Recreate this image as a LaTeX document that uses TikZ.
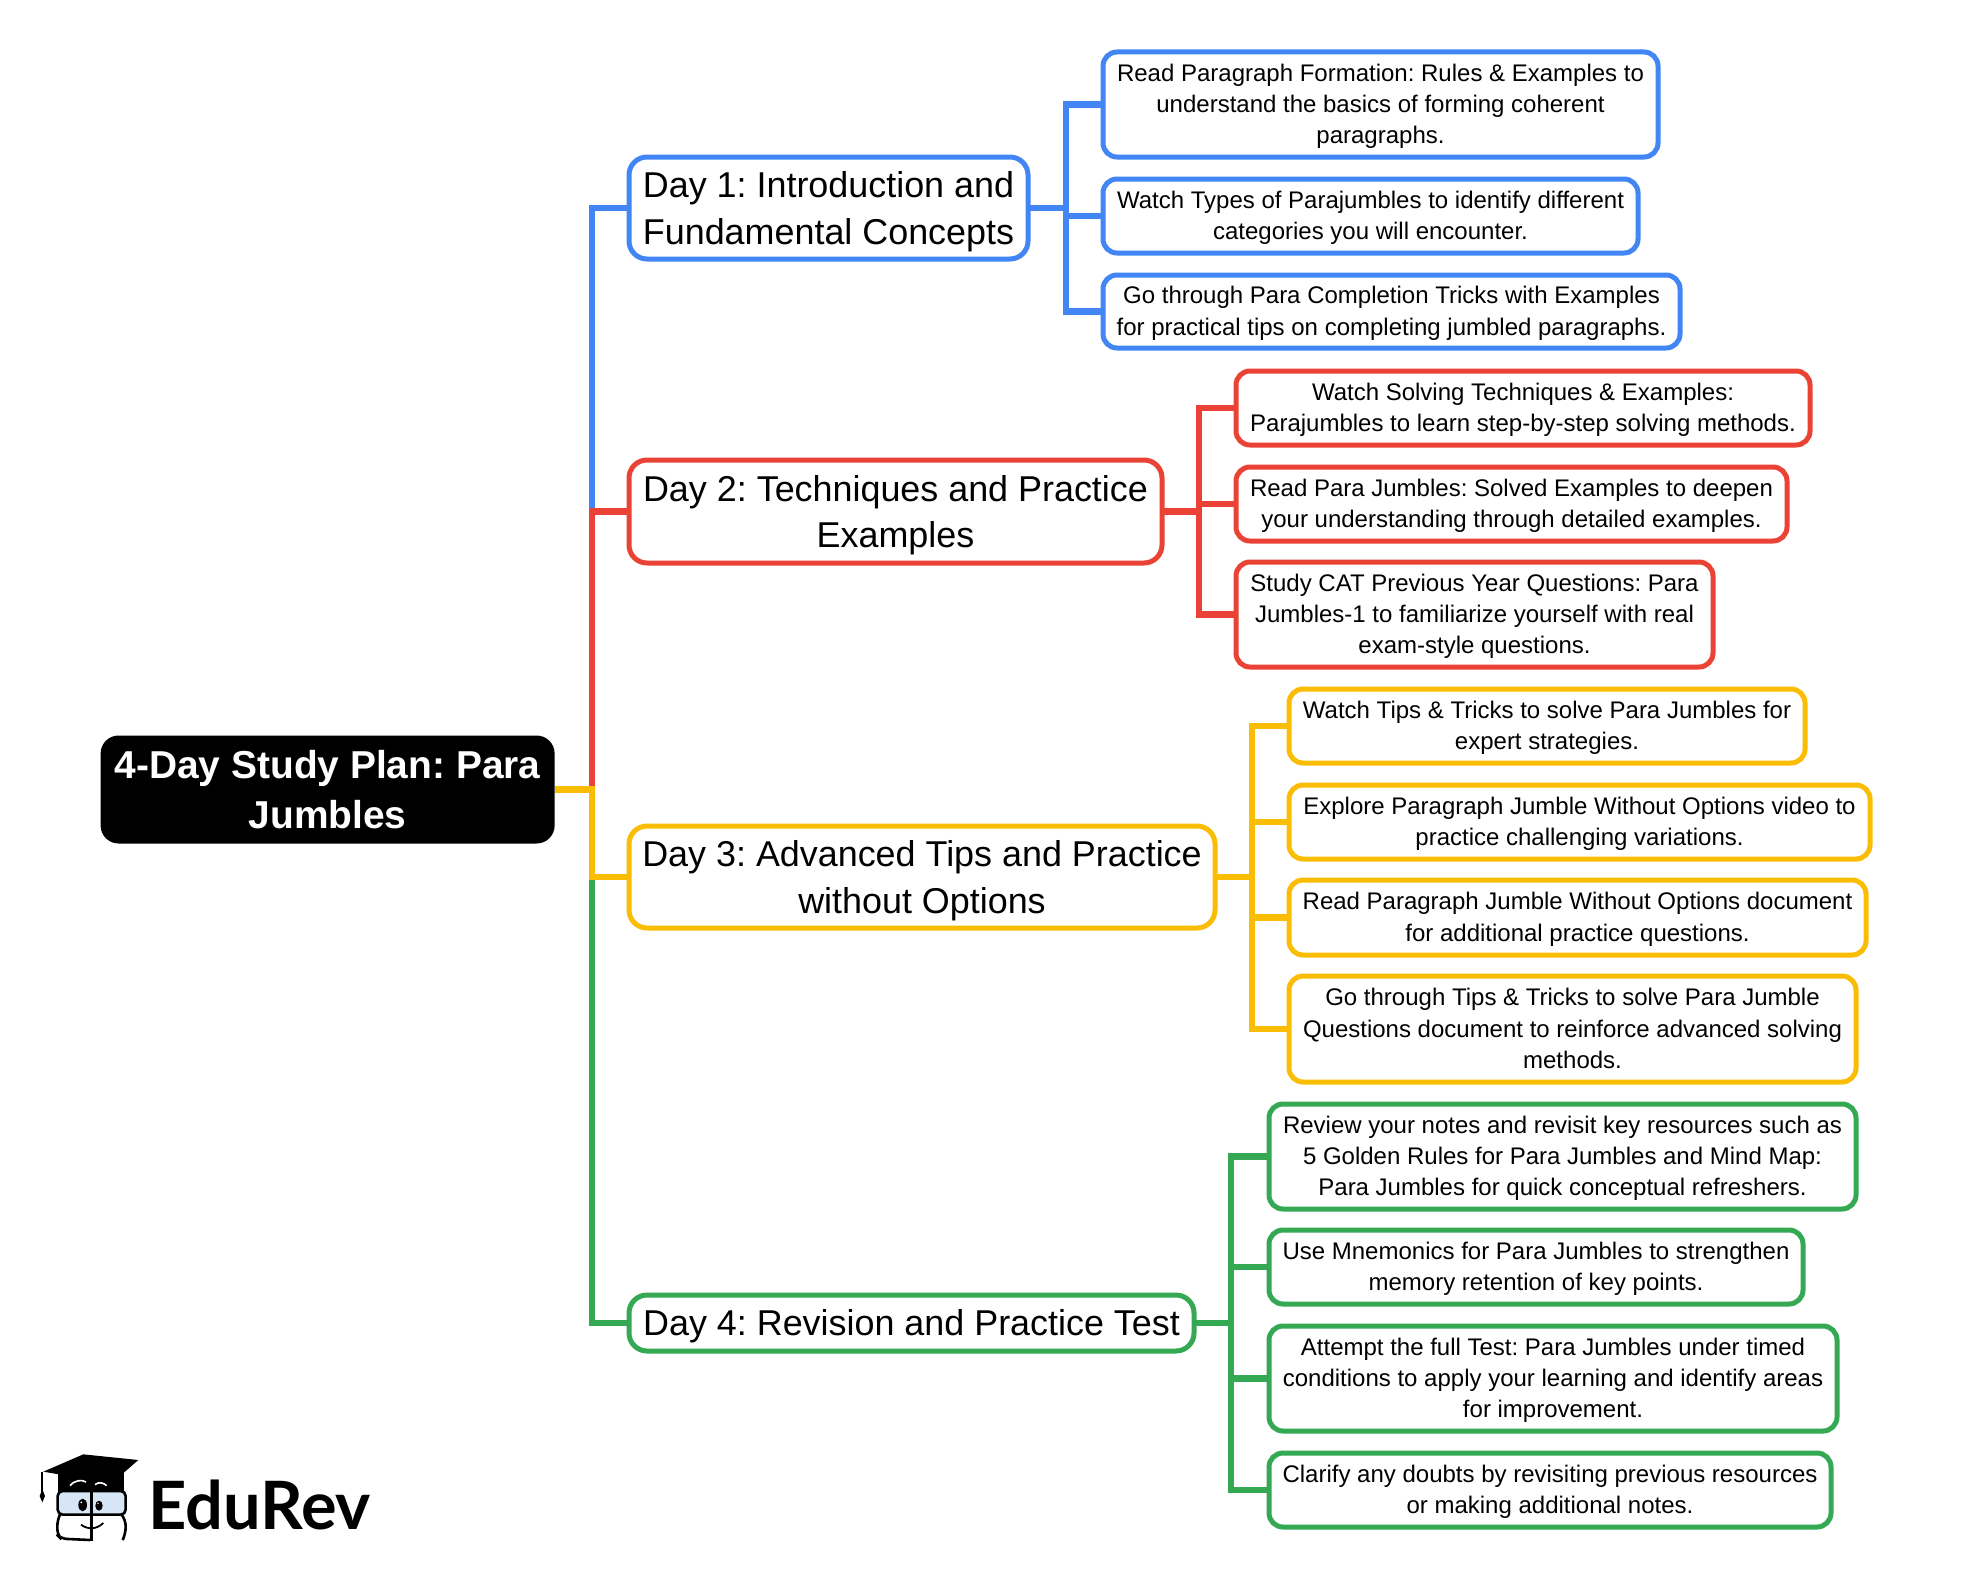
\documentclass[tikz,border=0pt]{standalone}
\usepackage{fontspec}
\setmainfont{Liberation Sans}
\newfontfamily\logofont{Lato}
\frenchspacing
\definecolor{cblue}{HTML}{4285F4}
\definecolor{cred}{HTML}{EA4335}
\definecolor{cyel}{HTML}{FBBC04}
\definecolor{cgrn}{HTML}{34A853}
\definecolor{cglass}{HTML}{D6E6F7}
\tikzset{
  box/.style={draw,fill=white,rounded corners=14pt,line width=5pt,outer sep=0pt,inner sep=0pt,align=center},
  leaf/.style={box,font=\def\txtdrop{-1.8pt}\fontsize{24pt}{31.3pt}\selectfont},
  day/.style={box,rounded corners=18pt,font=\def\txtdrop{-3.5pt}\fontsize{35.9pt}{46.6pt}\selectfont},
  rootbox/.style={fill=black,text=white,rounded corners=18pt,outer sep=0pt,inner sep=0pt,align=center,font=\bfseries\fontsize{38.9pt}{50pt}\selectfont},
  link/.style={line width=6.1pt,miter limit=10,shorten >=-2pt},
  node distance=0pt
}
\newcommand{\boxat}[8]{\node[#1,draw=#2,minimum width=#5pt-#4pt,minimum height=#7pt-#6pt] (#3) at ({(#4+#5)/2},{(#6+#7)/2}) {\raisebox{\txtdrop}[\height][\depth]{\begin{tabular}{@{}c@{}}#8\end{tabular}}};}
\begin{document}
\begin{tikzpicture}[x=1pt,y=-1pt]
\useasboundingbox[fill=white] (0,0) rectangle (1972,1579);
% root
\node[rootbox,minimum width=454pt,minimum height=108pt] (root) at (327.6,789.5) {4-Day Study Plan: Para\\Jumbles};
% days
\boxat{day}{cblue}{d1}{629}{1028}{157}{259}{Day 1: Introduction and\\Fundamental Concepts}
\boxat{day}{cred}{d2}{629}{1162}{460}{563}{Day 2: Techniques and Practice\\Examples}
\boxat{day}{cyel}{d3}{629}{1215}{826}{928}{Day 3: Advanced Tips and Practice\\without Options}
\boxat{day}{cgrn}{d4}{629}{1194}{1295}{1351}{Day 4: Revision and Practice Test}
% leaves day 1
\boxat{leaf}{cblue}{a1}{1103}{1658}{52}{157}{Read Paragraph Formation: Rules \& Examples to\\understand the basics of forming coherent\\paragraphs.}
\boxat{leaf}{cblue}{a2}{1103}{1638}{179}{253}{Watch Types of Parajumbles to identify different\\categories you will encounter.}
\boxat{leaf}{cblue}{a3}{1103}{1680}{275}{348}{Go through Para Completion Tricks with Examples\\for practical tips on completing jumbled paragraphs.}
% day 2
\boxat{leaf}{cred}{b1}{1236}{1810}{371}{445}{Watch Solving Techniques \& Examples:\\Parajumbles to learn step-by-step solving methods.}
\boxat{leaf}{cred}{b2}{1236}{1787}{467}{541}{Read Para Jumbles: Solved Examples to deepen\\your understanding through detailed examples.}
\boxat{leaf}{cred}{b3}{1236}{1713}{562}{667}{Study CAT Previous Year Questions: Para\\Jumbles-1 to familiarize yourself with real\\exam-style questions.}
% day 3
\boxat{leaf}{cyel}{c1}{1289}{1805}{689}{763}{Watch Tips \& Tricks to solve Para Jumbles for\\expert strategies.}
\boxat{leaf}{cyel}{c2}{1289}{1870}{785}{859}{Explore Paragraph Jumble Without Options video to\\practice challenging variations.}
\boxat{leaf}{cyel}{c3}{1289}{1866}{880}{955}{Read Paragraph Jumble Without Options document\\for additional practice questions.}
\boxat{leaf}{cyel}{c4}{1289}{1856}{976}{1082}{Go through Tips \& Tricks to solve Para Jumble\\Questions document to reinforce advanced solving\\methods.}
% day 4
\boxat{leaf}{cgrn}{e1}{1269}{1856}{1104}{1209}{Review your notes and revisit key resources such as\\5 Golden Rules for Para Jumbles and Mind Map:\\Para Jumbles for quick conceptual refreshers.}
\boxat{leaf}{cgrn}{e2}{1269}{1803}{1230}{1304}{Use Mnemonics for Para Jumbles to strengthen\\memory retention of key points.}
\boxat{leaf}{cgrn}{e3}{1269}{1837}{1326}{1431}{Attempt the full Test: Para Jumbles under timed\\conditions to apply your learning and identify areas\\for improvement.}
\boxat{leaf}{cgrn}{e4}{1269}{1831}{1453}{1527}{Clarify any doubts by revisiting previous resources\\or making additional notes.}
% trunk coordinates
\coordinate (tr) at (591.7,0);
\coordinate (s1) at (1065.7,0);
\coordinate (s2) at (1199,0);
\coordinate (s3) at (1252,0);
\coordinate (s4) at (1231,0);
% trunk links
\draw[link,cblue] (root.east) -- (root.east -| tr) |- (d1.west);
\draw[link,cred] (root.east) -- (root.east -| tr) |- (d2.west);
\draw[link,cgrn] (root.east) -- (root.east -| tr) |- (d4.west);
\draw[link,cyel] (root.east) -- (root.east -| tr) |- (d3.west);
% sub links
\foreach \k in {a1,a2,a3}{\draw[link,cblue] (d1.east) -- (d1.east -| s1) |- (\k.west);}
\foreach \k in {b1,b2,b3}{\draw[link,cred] (d2.east) -- (d2.east -| s2) |- (\k.west);}
\foreach \k in {c1,c2,c3,c4}{\draw[link,cyel] (d3.east) -- (d3.east -| s3) |- (\k.west);}
\foreach \k in {e1,e2,e3,e4}{\draw[link,cgrn] (d4.east) -- (d4.east -| s4) |- (\k.west);}
% logo
\begin{scope}[shift={(0,1420)},x=0.3333pt,y=-0.3333pt]
  \fill[black] (175,160) -- (175,215) -- (372,215) -- (372,160) -- cycle;
  \fill[black] (130,155) -- (250,103) -- (415,120) -- (335,190) -- cycle;
  \draw[white,line width=1.6pt] (210,197) .. controls (225,180) and (245,178) .. (258,186);
  \draw[white,line width=1.6pt] (285,194) .. controls (295,185) and (310,187) .. (320,197);
  \draw[black,line width=1.8pt] (127,155) -- (127,215);
  \fill[black] (127,208) -- (119,228) -- (127,247) -- (135,228) -- cycle;
  \draw[black,line width=2.6pt,fill=cglass,rounded corners=5pt] (173,213) rectangle (377,284);
  \draw[black,line width=2.6pt,rounded corners=6pt] (178,288) -- (172,300) -- (172,345) -- (183,356) -- (270,360);
  \draw[black,line width=2.6pt,rounded corners=6pt] (368,288) -- (377,300) -- (377,340) -- (368,360);
  \draw[black,line width=2.8pt] (275,212) -- (275,362);
  \fill[black] (248,255) ellipse [x radius=13,y radius=19];
  \fill[black] (297,257) ellipse [x radius=11,y radius=15];
  \fill[white] (244,247) circle [radius=3];
  \fill[white] (294,250) circle [radius=2.5];
  \draw[black,line width=1.8pt] (243,314) .. controls (265,330) and (290,328) .. (310,309);
\end{scope}
\node[anchor=west,inner sep=0pt,font=\logofont\bfseries\fontsize{66.7pt}{72pt}\selectfont] (logo) at (148,1505) {EduRev};
\end{tikzpicture}
\end{document}
